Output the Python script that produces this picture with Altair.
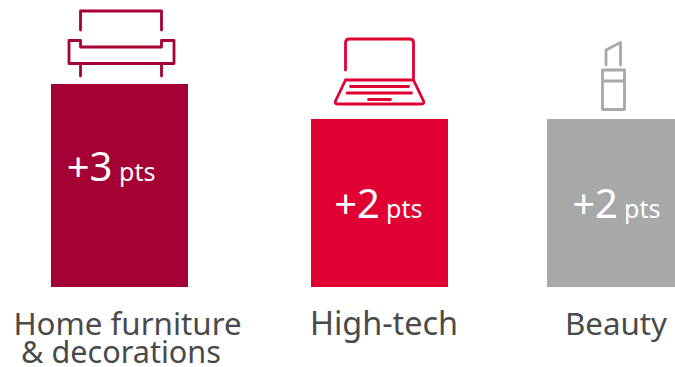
import altair as alt
import pandas as pd

# Chart values
categories = ["Home furniture", "High-tech", "Beauty"]
points = [3, 2, 2]
unit = "pts"
caption_lines = [["Home furniture", "& decorations"], ["High-tech"], ["Beauty"]]

# Styling
colors = ["#A50034", "#E00034", "#A7A8AA"]
FONT = "Noto Sans"
CAPTION_COLOR = "#4A4A4A"
W, H = 675, 367
centres = [119.5, 379.5, 615.5]
BAR_WIDTH = 137
FLOOR = -2.8  # axis floor: bars grow from here rather than zero
Y_DOMAIN = [-5.0857, 5.4]

# Pictograms, in pixels around each bar's centre
sofa = ("M-39,-14V-33H42V-14 M-50.5,-3.5H-39V3H42V-3.5H54.5V19.5H-50.5Z "
        "M-39,20V32 M42,20V32")
laptop = ("M-34,-6V-33Q-34,-37 -30,-37H30Q34,-37 34,-33V4H-34 M-34,4L-44,25Q-45,28 -42,28H42Q45,28 44,25L34,4 "
          "M-29,10.5H29 M-32.5,17H32 M-11,23.5H11")
lipstick = ("M-9.5,-11V-26L5,-33.5V-11 M-13,-6H9V33.5H-13Z M-13,5H9")
icons = [(sofa, 44), (laptop, 76), (lipstick, 76)]

# Per-bar placement of the value, unit and caption text
value_style = [
    dict(dx=-7, y=181, size=40),
    dict(dx=0.5, y=218, size=40),
    dict(dx=2.5, y=218, size=40),
]
unit_dx = [-0.5, 6.5, 8.5]
caption_dx = [[8, 1.5], [4.5], [0.5]]
caption_size = [[31.3, 30.6], [32.4], [31.3]]
caption_y = [335, 363]

df = pd.DataFrame({
    "slot": list(range(len(categories))),
    "category": categories,
    "points": points,
    "floor": [FLOOR] * len(points),
})

x = alt.X("slot:Q", scale=alt.Scale(domain=[0, 1, 2], range=centres, padding=0), axis=None)
y = alt.Y("points:Q", scale=alt.Scale(domain=Y_DOMAIN, range=[H, 0], zero=False, nice=False), axis=None)

bars = alt.Chart(df).mark_bar(size=BAR_WIDTH, orient="vertical").encode(
    x=x,
    y=y,
    y2=alt.Y2("floor:Q"),
    color=alt.Color("category:N", scale=alt.Scale(domain=categories, range=colors), legend=None),
)

layers = [bars]
for i, category in enumerate(categories):
    row = alt.Chart(df[df.slot == i])
    shape, icon_y = icons[i]
    layers.append(row.mark_point(
        shape=shape, size=4, filled=False, stroke=colors[i], strokeWidth=2.8,
        strokeCap="round", strokeJoin="round", opacity=1,
    ).encode(x=x, y=alt.value(icon_y)))

    style = value_style[i]
    layers.append(row.transform_calculate(label="'+' + datum.points").mark_text(
        font=FONT, fontSize=style["size"], color="white", align="right", baseline="alphabetic", dx=style["dx"],
    ).encode(x=x, y=alt.value(style["y"]), text="label:N"))
    layers.append(row.transform_calculate(label=f"'{unit}'").mark_text(
        font=FONT, fontSize=25, color="white", align="left", baseline="alphabetic", dx=unit_dx[i],
    ).encode(x=x, y=alt.value(style["y"]), text="label:N"))

    for j, line in enumerate(caption_lines[i]):
        layers.append(row.transform_calculate(label=f"'{line}'").mark_text(
            font=FONT, fontSize=caption_size[i][j], color=CAPTION_COLOR, align="center", baseline="alphabetic", dx=caption_dx[i][j],
        ).encode(x=x, y=alt.value(caption_y[j]), text="label:N"))

chart = alt.layer(*layers).properties(
    width=W, height=H, padding=0, autosize=alt.AutoSizeParams(type="none"),
).configure_view(stroke=None)

chart.save("out.html", embed_options={"renderer": "svg", "actions": False})
